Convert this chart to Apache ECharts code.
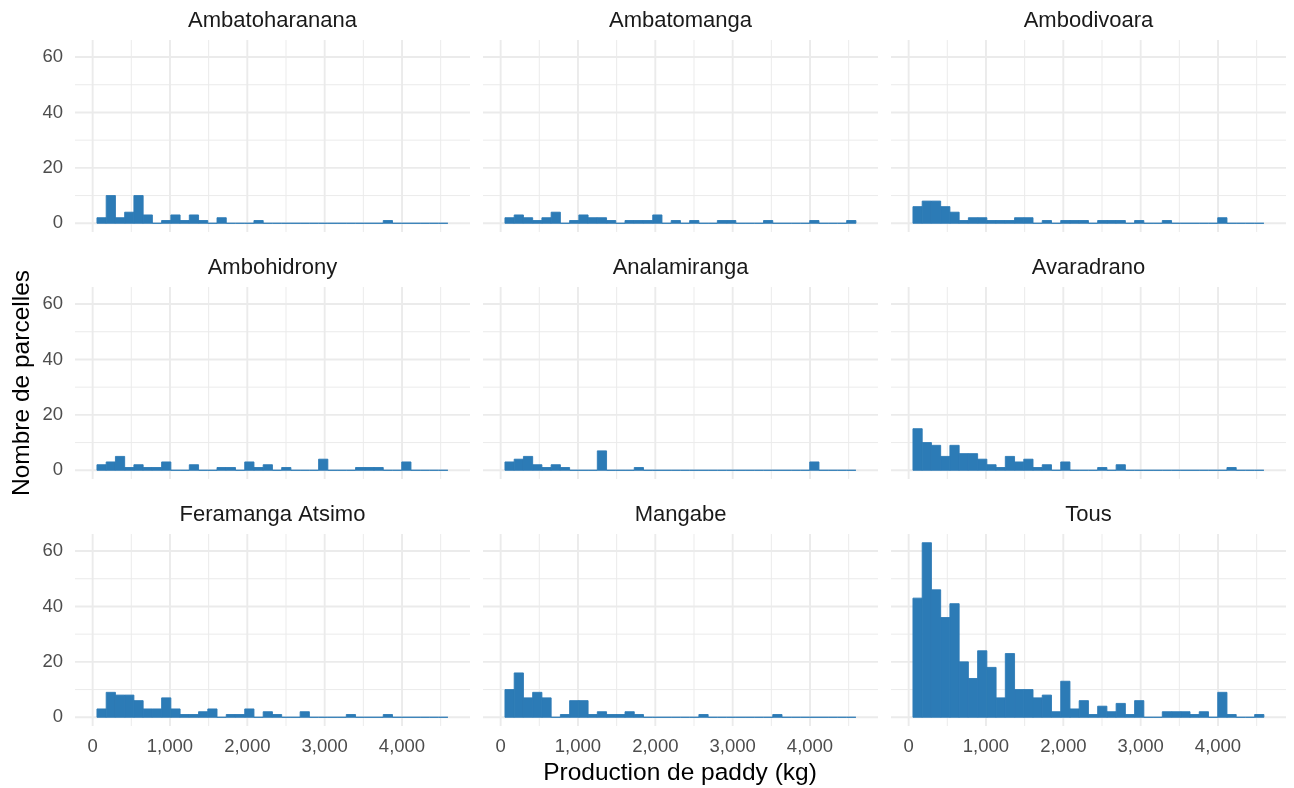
<!DOCTYPE html>
<html>
<head>
<meta charset="utf-8">
<script src="https://cdn.jsdelivr.net/npm/echarts@6/dist/echarts.min.js"></script>
<style>html,body{margin:0;padding:0;background:#fff}#c{width:1294px;height:788px}</style>
</head>
<body>
<div id="c"></div>
<script>
// ---- data ----
const panelNames = ['Ambatoharanana','Ambatomanga','Ambodivoara','Ambohidrony','Analamiranga','Avaradrano','Feramanga Atsimo','Mangabe','Tous'];
const binStart = 56;      // left edge of first bin (kg)
const binWidth = 119.4;   // bin width (kg)
const ambatoharanana = [2,10,2,4,10,3,0,1,3,1,3,1,0,2,0,0,0,1,0,0,0,0,0,0,0,0,0,0,0,0,0,1,0,0,0,0,0,0];
const ambatomanga    = [2,3,2,1,2,4,0,1,3,2,2,1,0,1,1,1,3,0,1,0,1,0,0,1,1,0,0,0,1,0,0,0,0,1,0,0,0,1];
const ambodivoara    = [6,8,8,6,4,1,2,2,1,1,1,2,2,0,1,0,1,1,1,0,1,1,1,0,1,0,0,1,0,0,0,0,0,2,0,0,0,0];
const ambohidrony    = [2,3,5,1,2,1,1,3,0,0,2,0,0,1,1,0,3,1,2,0,1,0,0,0,4,0,0,0,1,1,1,0,0,3,0,0,0,0];
const analamiranga   = [3,4,5,2,1,2,1,0,0,0,7,0,0,0,1,0,0,0,0,0,0,0,0,0,0,0,0,0,0,0,0,0,0,3,0,0,0,0];
const avaradrano     = [15,10,9,5,9,6,6,4,2,1,5,3,4,1,2,0,3,0,0,0,1,0,2,0,0,0,0,0,0,0,0,0,0,0,1,0,0,0];
const feramanga      = [3,9,8,8,6,3,3,7,3,1,1,2,3,0,1,1,3,0,2,1,0,0,2,0,0,0,0,1,0,0,0,1,0,0,0,0,0,0];
const mangabe        = [10,16,7,9,7,0,1,6,6,1,2,1,1,2,1,0,0,0,0,0,0,1,0,0,0,0,0,0,0,1,0,0,0,0,0,0,0,0];
const tous           = [43,63,46,36,41,20,14,24,18,7,23,10,10,7,8,2,13,3,6,1,4,2,5,1,6,0,0,2,2,2,1,2,0,9,1,0,0,1];
const panelCounts = [ambatoharanana, ambatomanga, ambodivoara, ambohidrony, analamiranga, avaradrano, feramanga, mangabe, tous];
const xMajorTicks = [0,1000,2000,3000,4000];
const xMinorTicks = [500,1500,2500,3500,4500];
const yMajorTicks = [0,20,40,60];
const yMinorTicks = [10,30,50];

// ---- layout / style ----
const colLeft = [75, 483, 891];
const rowTop = [40, 287, 534];
const panelW = 395, panelH = 192;
const X_MIN = -228, X_MAX = 4879;
const Y_MIN = -3.15, Y_MAX = 66.15;
const BAR = '#2C7BB6';
const FONT = 'Liberation Sans, Arial, sans-serif';

const grids = [], xAxes = [], yAxes = [], series = [], graphics = [];

const gridData = [];
xMajorTicks.forEach(v => gridData.push([0, v, 1]));
xMinorTicks.forEach(v => gridData.push([0, v, 0]));
yMajorTicks.forEach(v => gridData.push([1, v, 1]));
yMinorTicks.forEach(v => gridData.push([1, v, 0]));

function renderGridLine(params, api) {
  const cs = params.coordSys;
  const dir = api.value(0), v = api.value(1), major = api.value(2);
  let shape;
  if (dir === 0) {
    const x = api.coord([v, 0])[0];
    shape = {x1: x, y1: cs.y, x2: x, y2: cs.y + cs.height};
  } else {
    const y = api.coord([0, v])[1];
    shape = {x1: cs.x, y1: y, x2: cs.x + cs.width, y2: y};
  }
  return {type: 'line', shape: shape, style: {stroke: '#EBEBEB', lineWidth: major ? 1.9 : 1}};
}

function renderBar(params, api) {
  const x0 = api.value(0), x1 = api.value(1), c = api.value(2);
  const p0 = api.coord([x0, c]);
  const p1 = api.coord([x1, 0]);
  return {type: 'rect',
    shape: {x: p0[0], y: p0[1], width: p1[0] - p0[0], height: p1[1] - p0[1]},
    style: {fill: BAR, stroke: BAR, lineWidth: 0.9}};
}

panelNames.forEach((name, i) => {
  const col = i % 3, row = Math.floor(i / 3);
  grids.push({left: colLeft[col], top: rowTop[row], width: panelW, height: panelH, containLabel: false});
  xAxes.push({
    type: 'value', gridIndex: i, min: X_MIN, max: X_MAX,
    axisLine: {show: false}, axisTick: {show: false}, splitLine: {show: false},
    axisLabel: {
      show: row === 2, customValues: xMajorTicks, margin: 11,
      color: '#4D4D4D', fontSize: 18.5, fontFamily: FONT,
      formatter: v => Number(v).toLocaleString('en-US')
    }
  });
  yAxes.push({
    type: 'value', gridIndex: i, min: Y_MIN, max: Y_MAX,
    axisLine: {show: false}, axisTick: {show: false}, splitLine: {show: false},
    axisLabel: {
      show: col === 0, customValues: yMajorTicks, margin: 12,
      color: '#4D4D4D', fontSize: 18.5, fontFamily: FONT
    }
  });
  series.push({
    type: 'custom', xAxisIndex: i, yAxisIndex: i, z: 1, silent: true,
    renderItem: renderGridLine, data: gridData, encode: {x: 1, y: 1}
  });
  const counts = panelCounts[i];
  const bars = counts.map((c, k) => [binStart + k * binWidth, binStart + (k + 1) * binWidth, c]);
  series.push({
    type: 'custom', name: name, xAxisIndex: i, yAxisIndex: i, z: 2,
    renderItem: renderBar, data: bars, encode: {x: [0, 1], y: 2}
  });
  graphics.push({
    type: 'text', x: colLeft[col] + panelW / 2, y: 20.5 + 247 * row,
    style: {text: name, fontSize: 22, fontFamily: FONT, fill: '#1A1A1A', align: 'center', verticalAlign: 'middle'}
  });
});

graphics.push({
  type: 'text', x: 680, y: 773.5,
  style: {text: 'Production de paddy (kg)', fontSize: 24.5, fontFamily: FONT, fill: '#000', align: 'center', verticalAlign: 'middle'}
});
graphics.push({
  type: 'text', x: 22, y: 383, rotation: Math.PI / 2,
  style: {text: 'Nombre de parcelles', fontSize: 24.5, fontFamily: FONT, fill: '#000', align: 'center', verticalAlign: 'middle'}
});

const chart = echarts.init(document.getElementById('c'), null, {renderer: 'canvas'});
chart.setOption({
  animation: false,
  backgroundColor: '#fff',
  grid: grids, xAxis: xAxes, yAxis: yAxes, series: series, graphic: graphics
});
</script>
</body>
</html>
